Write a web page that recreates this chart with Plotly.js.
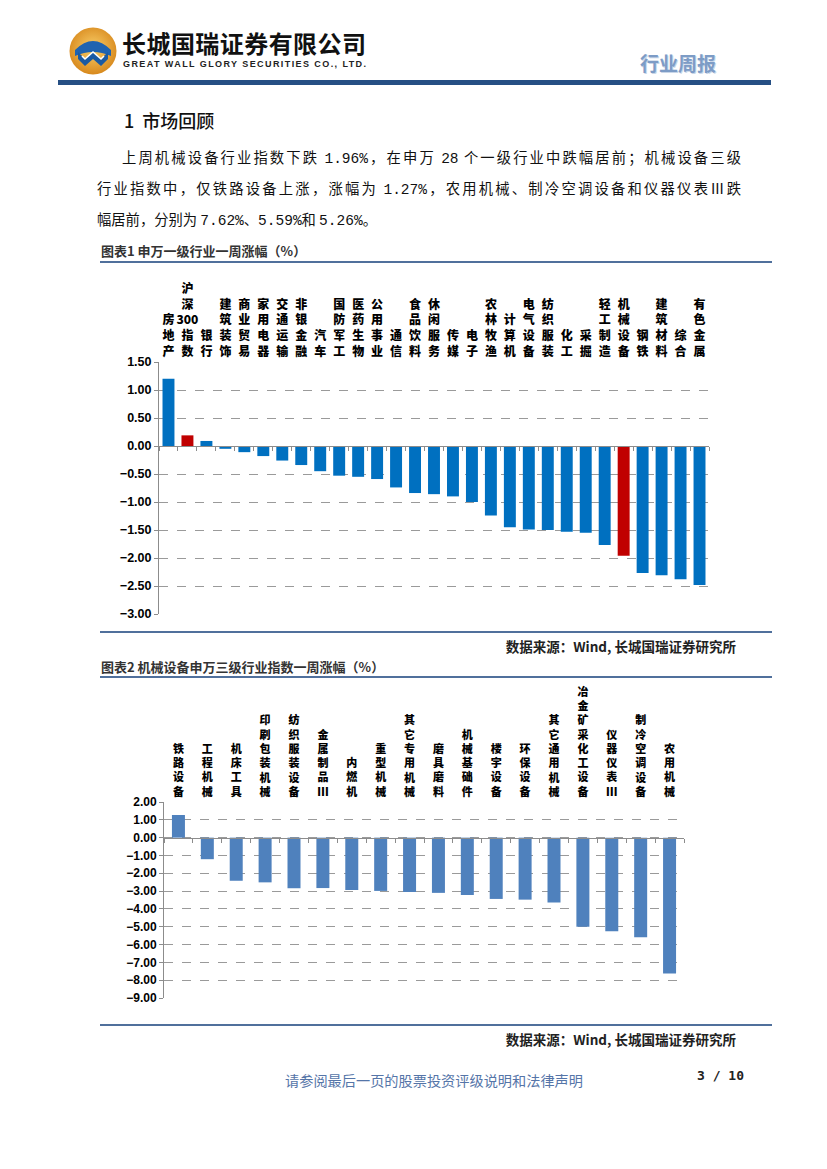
<!DOCTYPE html>
<html><head><meta charset="utf-8">
<script src="https://cdn.plot.ly/plotly-3.0.1.min.js"></script>
<style>
html,body{margin:0;padding:0;background:#fff;}
#page{position:relative;width:827px;height:1169px;overflow:hidden;font-family:"Noto Sans CJK SC","Liberation Sans",sans-serif;color:#000;}
.abs{position:absolute;white-space:nowrap;}
.rule{position:absolute;height:2px;background:#50709c;}
.cap{position:absolute;white-space:nowrap;font-size:13px;font-weight:bold;color:#333;}
.src{position:absolute;white-space:nowrap;font-size:13.5px;font-weight:bold;color:#222;text-align:right;}
.para{position:absolute;font-size:14.3px;color:#111;white-space:nowrap;}
.just{text-align:justify;text-align-last:justify;white-space:normal;}
.num{font-family:"Liberation Mono","DejaVu Sans Mono",monospace;font-size:14.5px;}
</style></head>
<body>
<div id="page">
  <!-- logo -->
  <svg class="abs" style="left:68px;top:26px" width="50" height="50" viewBox="0 0 50 50">
    <defs><radialGradient id="g" cx="50%" cy="45%" r="55%"><stop offset="0%" stop-color="#f9cf6a"/><stop offset="100%" stop-color="#d8891d"/></radialGradient></defs>
    <circle cx="25" cy="25" r="23.5" fill="url(#g)"/>
    <path d="M7,24 Q25,6 43,24 L43,30 Q25,22 7,30 Z" fill="#1f63b0"/>
    <path d="M10,26 L17,33 L25,26 L33,33 L40,26 L40,33 L33,40 L25,33 L17,40 L10,33 Z" fill="#1a5aa3"/>
    <path d="M14,30 L17,33 L25,26 L33,33 L36,30" stroke="#ffffff" stroke-width="1.6" fill="none"/>
  </svg>
  <div id="cname" class="abs" style="left:122px;top:31px;font-size:24px;line-height:1;font-weight:bold;color:#111;">长城国瑞证券有限公司</div>
  <div id="ename" class="abs" style="left:123px;top:60px;font-size:9px;line-height:1;font-weight:bold;color:#222;font-family:'Liberation Sans',sans-serif;">GREAT WALL GLORY SECURITIES CO., LTD.</div>
  <div class="abs" style="left:640px;top:49px;font-size:19px;font-weight:bold;color:#7d9cc6;text-shadow:1px 1px 0 #c9d6e8;">行业周报</div>
  <div class="abs" style="left:58px;top:80px;width:713px;height:5px;background:#264f84;"></div>

  <div class="abs" style="left:124px;top:107px;font-size:18px;font-weight:500;color:#111;">1&nbsp; 市场回顾</div>

  <div class="para just" style="left:122px;top:146px;width:619px;">上周机械设备行业指数下跌 <span class="num">1.96%</span>，在申万 <span class="num">28</span> 个一级行业中跌幅居前；机械设备三级</div>
  <div class="para just" style="left:97px;top:177px;width:644px;">行业指数中，仅铁路设备上涨，涨幅为 <span class="num">1.27%</span>，农用机械、制冷空调设备和仪器仪表Ⅲ跌</div>
  <div class="para" style="left:97px;top:208px;">幅居前，分别为 <span class="num">7.62%</span>、<span class="num">5.59%</span>和 <span class="num">5.26%</span>。</div>

  <div class="cap" style="left:101px;top:241px;">图表1&nbsp;申万一级行业一周涨幅（%）</div>
  <div class="rule" style="left:100px;top:261px;width:672px;"></div>
  <div id="chart1" class="abs" style="left:95px;top:265px;width:680px;height:365px;"></div>
  <div class="rule" style="left:100px;top:631px;width:672px;"></div>
  <div class="src" style="left:400px;top:636px;width:336px;">数据来源：Wind, 长城国瑞证券研究所</div>

  <div class="cap" style="left:101px;top:657px;">图表2&nbsp;机械设备申万三级行业指数一周涨幅（%）</div>
  <div class="rule" style="left:100px;top:676px;width:672px;"></div>
  <div id="chart2" class="abs" style="left:95px;top:680px;width:680px;height:340px;"></div>
  <div class="rule" style="left:100px;top:1024px;width:672px;"></div>
  <div class="src" style="left:400px;top:1029px;width:336px;">数据来源：Wind, 长城国瑞证券研究所</div>

  <div class="abs" style="left:285px;top:1070px;font-size:14.2px;color:#5575a8;">请参阅最后一页的股票投资评级说明和法律声明</div>
  <div class="abs" style="left:697px;top:1068px;font-size:13px;font-weight:bold;color:#222;font-family:'DejaVu Sans Mono',monospace;">3 / 10</div>
</div>
<script>
// fit header texts to their widths
function fitWidth(id, target){
  var el = document.getElementById(id);
  var n = el.textContent.length;
  var w = el.getBoundingClientRect().width;
  el.style.letterSpacing = ((target - w) / (n - 1)) + 'px';
}
fitWidth('cname', 244);
fitWidth('ename', 243);

// ---- Chart 1 data ----
var cats1 = ['房地产','沪深300指数','银行','建筑装饰','商业贸易','家用电器','交通运输','非银金融','汽车','国防军工','医药生物','公用事业','通信','食品饮料','休闲服务','传媒','电子','农林牧渔','计算机','电气设备','纺织服装','化工','采掘','轻工制造','机械设备','钢铁','建筑材料','综合','有色金属'];
var vals1 = [1.20,0.19,0.09,-0.05,-0.11,-0.18,-0.26,-0.34,-0.45,-0.53,-0.55,-0.59,-0.74,-0.84,-0.86,-0.90,-1.00,-1.24,-1.45,-1.49,-1.50,-1.53,-1.55,-1.77,-1.96,-2.27,-2.31,-2.38,-2.48];
var highlight1 = ['沪深300指数','机械设备'];
var yTicks1 = [1.5,1.0,0.5,0,-0.5,-1.0,-1.5,-2.0,-2.5,-3.0];
var yRange1 = [-3, 1.5];

// ---- Chart 2 data ----
var cats2 = ['铁路设备','工程机械','机床工具','印刷包装机械','纺织服装设备','金属制品Ⅲ','内燃机','重型机械','其它专用机械','磨具磨料','机械基础件','楼宇设备','环保设备','其它通用机械','冶金矿采化工设备','仪器仪表Ⅲ','制冷空调设备','农用机械'];
var vals2 = [1.27,-1.21,-2.42,-2.51,-2.84,-2.83,-2.94,-2.99,-3.05,-3.10,-3.22,-3.44,-3.48,-3.64,-5.00,-5.26,-5.59,-7.62];
var yTicks2 = [2,1,0,-1,-2,-3,-4,-5,-6,-7,-8,-9];
var yRange2 = [-9, 2];

function vlabel(c){ return c.match(/\d+|./gu).join('<br>'); }

function makeChart(id, cats, vals, colors, yTicks, yRange, opt){
  var n = cats.length;
  var xr = [-0.5, n - 0.5];
  var pos = (0 - yRange[0]) / (yRange[1] - yRange[0]);
  var traces = [
    {type:'bar', x:cats, y:vals, marker:{color:colors, line:{width:0}}, hoverinfo:'skip', xaxis:'x', yaxis:'y'},
    {type:'scatter', mode:'markers', x:cats, y:vals, marker:{opacity:0, size:1}, hoverinfo:'skip', xaxis:'x2', yaxis:'y', showlegend:false}
  ];
  var layout = {
    width: opt.w, height: opt.h,
    margin: opt.margin,
    paper_bgcolor:'rgba(0,0,0,0)', plot_bgcolor:'rgba(0,0,0,0)',
    showlegend:false,
    bargap: opt.bargap,
    xaxis: {type:'category', side:'top', range:xr, tickvals:cats, ticktext:cats.map(vlabel), tickangle:0,
      showline:false, showgrid:false, zeroline:false, ticks:'', ticklabelstandoff: opt.standoff,
      tickfont:{family:'"Noto Sans CJK SC", sans-serif', size:opt.lblSize, color:'#000', weight:900}, fixedrange:true},
    xaxis2: {type:'category', overlaying:'x', anchor:'free', position:pos, side:'bottom', range:xr,
      categoryarray:cats, categoryorder:'array',
      showline:true, linecolor:'#8c8c8c', linewidth:1, ticks:'outside', ticklen:4, tickcolor:'#8c8c8c', tickson:'boundaries',
      showticklabels:false, showgrid:false, zeroline:false},
    yaxis: {range:yRange, tickvals:yTicks, tickformat:'.2f', showline:true, linecolor:'#8c8c8c', linewidth:1,
      ticks:'outside', ticklen:4, tickcolor:'#8c8c8c', showgrid:true, gridcolor:'#9a9a9a', griddash:'dash', gridwidth:1,
      zeroline:false, tickfont:{family:'"Liberation Sans", Arial, sans-serif', size:opt.ySize, color:'#000', weight:'bold'}, fixedrange:true}
  };
  Plotly.newPlot(id, traces, layout, {displayModeBar:false, staticPlot:true});
}

var colors1 = cats1.map(function(c){ return highlight1.indexOf(c) >= 0 ? '#c00000' : '#0070c0'; });
makeChart('chart1', cats1, vals1, colors1, yTicks1, yRange1,
  {w:680, h:365, margin:{l:64, r:66, t:97, b:16}, bargap:0.37, lblSize:12, ySize:12.5, standoff:3});

var colors2 = cats2.map(function(){ return '#4f81bd'; });
makeChart('chart2', cats2, vals2, colors2, yTicks2, yRange2,
  {w:680, h:340, margin:{l:69, r:91, t:122, b:22}, bargap:0.55, lblSize:11, ySize:12, standoff:3});
</script>
</body></html>
